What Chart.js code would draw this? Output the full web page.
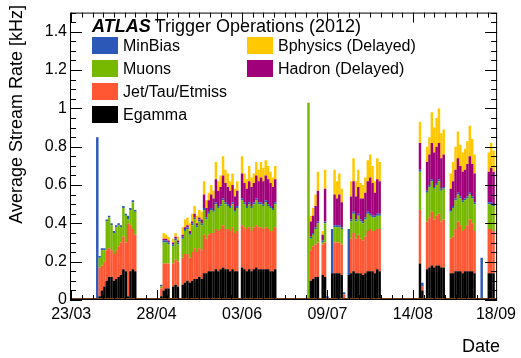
<!DOCTYPE html>
<html><head><meta charset="utf-8">
<script src="https://cdn.jsdelivr.net/npm/chart.js@4"></script>
<style>html,body{margin:0;padding:0;background:#fff}canvas{display:block}</style>
</head><body>
<canvas id="c" width="521" height="358"></canvas>
<script>
// ---- data (one value per day, starting 23/03/2012) ----
const nDays = 180;
const tickLabels = ['23/03','28/04','03/06','09/07','14/08','18/09'];
const seriesNames = ['Egamma','Jet/Tau/Etmiss','Muons','MinBias','Hadron (Delayed)','Bphysics (Delayed)'];

const egamma = [
 0,0,0,0,0,0,0,0,0,0,
 0,0,.02,.05,.07,.10,.12,.12,.10,.11,
 .12,.13,.16,.15,.02,.15,.16,.15,0,0,
 0,0,0,0,0,0,0,0,.02,.05,
 .06,.06,0,.07,.08,.07,0,.08,.09,.10,
 .09,.10,.11,.11,.12,.11,.14,.14,.15,.15,
 .15,.16,.15,.16,.17,.16,.16,.15,.16,.15,
 .15,0,.17,.16,.15,.16,.15,.16,.17,.16,
 .16,.16,.16,.16,.15,.15,.16,0,0,0,
 0,0,0,0,0,0,0,0,0,0,
 0,.10,.11,.12,.12,0,.13,.12,0,0,
 .14,.14,.14,.14,.13,.01,0,.13,.14,.15,
 .14,.14,.14,.13,.14,.15,.15,.15,.14,.16,
 .15,0,0,0,0,0,0,0,0,0,
 0,0,0,0,0,0,0,.19,.05,0,
 .16,.17,.18,.17,.18,.18,.17,.17,0,0,
 .14,.14,.15,.15,.15,.14,.15,.15,.15,.15,
 .14,0,0,0,0,0,.14,.14,.14,0];

const jet = [
 0,0,0,0,0,0,0,0,0,0,
 0,0,.15,.13,.13,.16,.15,.14,.14,.15,
 .16,.17,.17,.15,.38,.24,.21,.19,0,0,
 0,0,0,0,0,0,0,0,.04,.14,
 .13,.13,0,.12,.13,.13,0,.14,.15,.14,
 .13,.15,.16,.14,.15,.15,.20,.18,.19,.20,
 .20,.21,.21,.21,.22,.21,.21,.21,.22,.20,
 .21,0,.22,.22,.22,.22,.21,.22,.22,.22,
 .22,.21,.22,.21,.21,.21,.22,0,0,0,
 0,0,0,0,0,0,0,0,0,0,
 0,.16,.17,.17,.18,0,.16,.18,0,0,
 0,.16,.16,.16,.16,.02,0,0,.18,.20,
 .18,.20,.18,.18,.19,.21,.22,.21,.22,.21,
 .22,0,0,0,0,0,0,0,0,0,
 0,0,0,0,0,0,0,.28,.02,0,
 .25,.26,.28,.25,.26,.27,.24,.25,0,0,
 .18,.19,.22,.26,.24,.22,.22,.24,.27,.25,
 .22,0,0,0,0,0,.23,.23,.22,0];

const muons = [
 0,0,0,0,0,0,0,0,0,0,
 0,0,.05,.08,.06,.15,.16,.13,.11,.12,
 .11,.08,.15,.14,.02,.08,.14,.12,0,0,
 0,0,0,0,0,0,0,0,.01,.11,
 .11,.10,0,.09,.10,.09,0,.10,.12,.13,
 .12,.14,.15,.13,.14,.13,.13,.10,.11,.12,
 .11,.13,.12,.12,.13,.13,.12,.12,.12,.11,
 .12,0,.13,.12,.11,.12,.12,.12,.13,.12,
 .12,.12,.13,.12,.12,.11,.12,0,0,0,
 0,0,0,0,0,0,0,0,0,0,
 1.03,.06,.06,.08,.10,0,.01,.10,0,0,
 0,.08,.08,.08,.08,0,0,0,.09,.10,
 .09,.10,.09,.09,.09,.09,.07,.07,.07,.07,
 .07,0,0,0,0,0,0,0,0,0,
 0,0,0,0,0,0,0,.20,0,0,
 .15,.16,.16,.16,.16,.17,.16,.16,0,0,
 .14,.15,.15,.14,.14,.15,.15,.14,.13,.13,
 .14,0,0,0,0,0,.13,.13,.13,0];

const minBias = [
 0,0,0,0,0,0,0,0,0,0,
 0,.85,.01,.01,.01,.01,.01,.01,.01,.01,
 .01,.01,.01,.01,.02,.01,.01,.01,0,0,
 0,0,0,0,0,0,0,0,.01,.01,
 .01,.01,0,.01,.01,.01,0,.01,.01,.01,
 .01,.01,.01,.01,.01,.01,.01,.01,.01,.01,
 .01,.01,.01,.01,.01,.01,.01,.01,.01,.01,
 .01,0,.01,.01,.01,.01,.01,.01,.01,.01,
 .01,.01,.01,.01,.01,.01,.01,0,0,0,
 0,0,0,.01,0,0,0,0,0,0,
 0,.01,.01,.01,.01,0,.01,.01,.02,0,
 .23,.01,.01,.01,.01,.01,0,.24,.01,.01,
 .01,.01,.01,.01,.01,.01,.01,.01,.01,.01,
 .01,0,0,0,0,0,0,.01,0,0,
 0,0,0,.01,0,0,0,.01,.02,0,
 .01,.01,.01,.01,.01,.01,.01,.01,0,0,
 .01,.01,.01,.01,.01,.01,.01,.01,.01,.01,
 .01,0,0,.22,0,0,.01,.01,.01,0];

const hadron = [
 0,0,0,0,0,0,0,0,0,0,
 0,0,0,0,0,0,0,0,0,0,
 0,0,0,0,0,0,0,0,0,0,
 0,0,0,0,0,0,0,0,0,.01,
 .01,.01,0,.01,.01,.01,0,.01,.01,.01,
 .01,.01,.02,.01,.01,.02,.07,.05,.06,.07,
 .06,.12,.08,.09,.12,.10,.09,.08,.09,.07,
 .08,0,.13,.10,.09,.11,.10,.10,.12,.11,
 .13,.12,.13,.13,.12,.11,.12,0,0,0,
 0,0,0,0,0,0,0,0,0,0,
 0,.08,.09,.11,.16,0,.03,.17,0,0,
 0,.16,.14,.16,.13,0,0,0,.12,.16,
 .12,.14,.11,.12,.13,.16,.19,.17,.12,.18,
 .17,0,0,0,0,0,0,0,0,0,
 0,0,0,0,0,0,0,.14,0,0,
 .15,.16,.19,.18,.19,.19,.16,.17,0,0,
 .11,.13,.15,.18,.16,.15,.15,.17,.19,.17,
 .15,0,0,0,0,0,.16,.18,.17,0];

const bphysics = [
 0,0,0,0,0,0,0,0,0,0,
 0,0,0,0,0,0,0,0,0,0,
 0,0,0,0,0,0,0,0,0,0,
 0,0,0,0,0,0,0,0,0,.03,
 .02,.02,0,.02,.02,.02,0,.04,.04,.04,
 .04,.04,.04,.04,.04,.04,.07,.04,.04,.05,
 .04,.09,.05,.06,.10,.07,.07,.05,.06,.04,
 .05,0,.09,.05,.05,.08,.05,.05,.07,.06,
 .08,.07,.08,.07,.06,.05,.07,0,0,0,
 0,0,0,0,0,0,0,0,0,0,
 0,.03,.04,.06,.10,0,.02,.10,0,0,
 0,.13,.09,.11,.07,0,0,0,.08,.12,
 .08,.09,.08,.07,.08,.11,.12,.09,.06,.11,
 .10,0,0,0,0,0,0,0,0,0,
 0,0,0,0,0,0,0,.11,0,0,
 .08,.09,.16,.13,.15,.18,.13,.13,0,0,
 .08,.10,.12,.14,.11,.10,.11,.12,.16,.13,
 .10,0,0,0,0,0,.10,.13,.11,0];

// category labels: dd/mm for each day from 23/03/2012
const categories = [];
for (let i = 0; i < nDays; i++) {
  const d = new Date(Date.UTC(2012, 2, 23 + i));
  categories.push(String(d.getUTCDate()).padStart(2,'0') + '/' + String(d.getUTCMonth()+1).padStart(2,'0'));
}

const colors = {
  'Egamma':'#000000', 'Jet/Tau/Etmiss':'#ff5733', 'Muons':'#77b800',
  'MinBias':'#2c58b8', 'Hadron (Delayed)':'#a0007a', 'Bphysics (Delayed)':'#ffc800'
};
const values = [egamma, jet, muons, minBias, hadron, bphysics];

const FONT = '"Liberation Sans", Arial, Helvetica, sans-serif';

const decor = {
  id: 'decor',
  afterDraw(chart) {
    const {ctx, chartArea: a, scales: {x, y}} = chart;
    ctx.save();
    // brown baseline
    ctx.strokeStyle = '#6e4522'; ctx.lineWidth = 2;
    ctx.beginPath(); ctx.moveTo(a.left, a.bottom - 1); ctx.lineTo(a.right, a.bottom - 1); ctx.stroke();
    // frame
    ctx.strokeStyle = '#000'; ctx.lineWidth = 1;
    ctx.strokeRect(a.left + 0.5, a.top + 0.5, a.right - a.left - 1, a.bottom - a.top - 1);
    ctx.beginPath();
    // y ticks (inside, both sides)
    for (let k = 0; k <= 30; k++) {
      const py = Math.round(y.getPixelForValue(k * 0.05)) + 0.5;
      if (py < a.top) break;
      const len = k % 4 === 0 ? 12 : 6;
      ctx.moveTo(a.left, py); ctx.lineTo(a.left + len, py);
      ctx.moveTo(a.right, py); ctx.lineTo(a.right - len, py);
    }
    // x ticks (inside, top and bottom)
    const p0 = x.getPixelForValue(0), step = x.getPixelForValue(1) - p0;
    for (let k = 0; ; k++) {
      const px = Math.round(p0 + k * 4.5 * step) + 0.5;
      if (px > a.right) break;
      const len = k % 8 === 0 ? 10 : 5;
      ctx.moveTo(px, a.bottom); ctx.lineTo(px, a.bottom - len);
      ctx.moveTo(px, a.top); ctx.lineTo(px, a.top + len);
    }
    ctx.stroke();

    // legend
    ctx.fillStyle = '#000';
    ctx.textBaseline = 'alphabetic';
    ctx.font = 'italic bold 18px ' + FONT;
    ctx.fillText('ATLAS', 92, 32);
    const w = ctx.measureText('ATLAS').width;
    ctx.font = '18px ' + FONT;
    ctx.fillText('Trigger Operations (2012)', 92 + w + 4, 32);
    ctx.font = '16px ' + FONT;
    const entries = [
      ['MinBias', 92, 45], ['Muons', 92, 68], ['Jet/Tau/Etmiss', 92, 91], ['Egamma', 92, 114],
      ['Bphysics (Delayed)', 247, 45], ['Hadron (Delayed)', 247, 68]
    ];
    for (const [name, lx, ly] of entries) {
      ctx.fillStyle = colors[name];
      ctx.fillRect(lx, ly - 8, 26, 17);
      ctx.fillStyle = '#000';
      ctx.fillText(name, lx + 31, ly + 6);
    }
    // axis titles
    ctx.font = '18px ' + FONT;
    ctx.textAlign = 'right';
    ctx.fillText('Date', 500, 352);
    ctx.translate(22, 5);
    ctx.rotate(-Math.PI / 2);
    ctx.fillText('Average Stream Rate [kHz]', 0, 0);
    ctx.restore();
  }
};

new Chart(document.getElementById('c'), {
  type: 'bar',
  data: {
    labels: categories,
    datasets: seriesNames.map((n, i) => ({
      label: n, data: values[i], backgroundColor: colors[n],
      borderWidth: 0, barPercentage: 1.04, categoryPercentage: 1
    }))
  },
  options: {
    responsive: false, animation: false, devicePixelRatio: 1,
    layout: { padding: { top: 6, right: 23, left: 0, bottom: 0 } },
    plugins: { legend: { display: false }, tooltip: { enabled: false } },
    scales: {
      x: {
        stacked: true,
        grid: { display: false, drawTicks: false },
        border: { display: false },
        ticks: {
          autoSkip: false, maxRotation: 0, minRotation: 0, padding: 5,
          color: '#000', font: { family: FONT, size: 16 },
          callback(v, i) { const l = categories[i]; return tickLabels.includes(l) ? l : ''; }
        },
        afterFit(s) { s.height = 58; }
      },
      y: {
        stacked: true, min: 0, max: 1.5,
        grid: { display: false, drawTicks: false },
        border: { display: false },
        ticks: {
          stepSize: 0.2, padding: 3, color: '#000', font: { family: FONT, size: 16 },
          callback(v) { return v > 1.45 ? '' : String(Math.round(v * 10) / 10); }
        },
        afterFit(s) { s.width = 70; }
      }
    }
  },
  plugins: [decor]
});
</script>
</body></html>
